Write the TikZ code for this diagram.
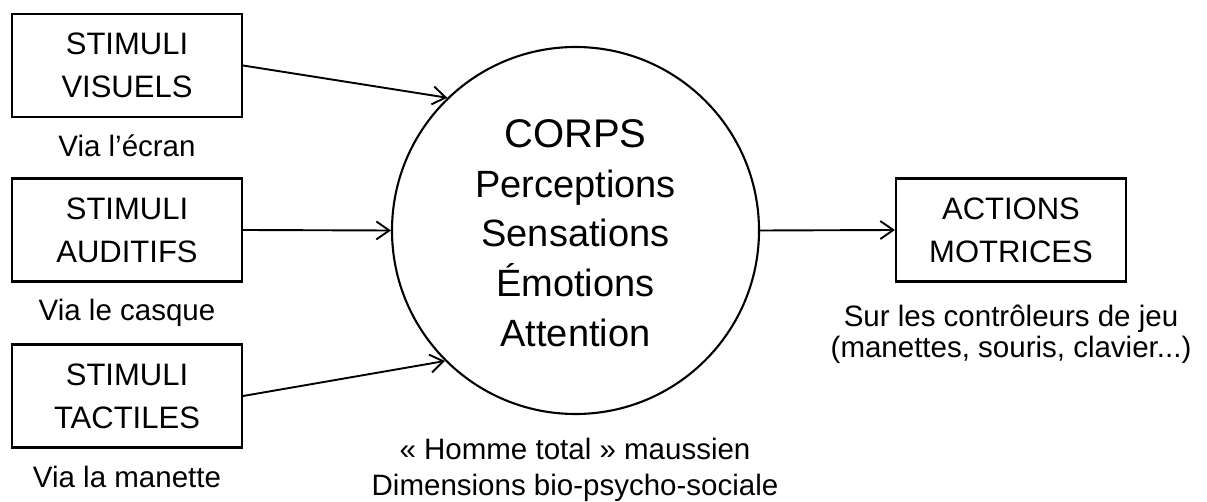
\documentclass[tikz,border=0pt]{standalone}
\usepackage{fontspec}
\setmainfont{Liberation Sans}
\usetikzlibrary{arrows.meta}
\begin{document}
\begin{tikzpicture}[x=1pt,y=-1pt,
  box/.style={draw, line width=2.1pt, minimum width=230pt, minimum height=103pt, inner sep=0pt, align=center, font=\fontsize{31}{43}\selectfont},
  captxt/.style={anchor=base, font=\fontsize{29.5}{36}\selectfont, inner sep=0pt},
  bodytxt/.style={anchor=base, font=\fontsize{38}{48}\selectfont, inner sep=0pt},
  arr/.style={line width=1.9pt, -{Straight Barb[length=13pt,width=18pt]}}]
\useasboundingbox (0,0) rectangle (1207,502);
\node[box] (b1) at (127,65.5) {STIMULI\\VISUELS};
\node[box] (b2) at (127,230) {STIMULI\\AUDITIFS};
\node[box] (b3) at (127,396) {STIMULI\\TACTILES};
\node[box] (r) at (1011,230) {ACTIONS\\MOTRICES};
\node[draw, circle, line width=2.1pt, minimum size=367pt, inner sep=0pt] (c) at (575.5,230.5) {};
\node[bodytxt, font=\fontsize{40}{48}\selectfont] (t1) at (575.5,148) {CORPS};
\node[bodytxt] (t2) at (575.5,198) {Perceptions};
\node[bodytxt] (t3) at (575.5,247) {Sensations};
\node[bodytxt] (t4) at (575.5,297) {Émotions};
\node[bodytxt] (t5) at (575.5,347) {Attention};
\node[captxt] (l1) at (127,157) {Via l’écran};
\node[captxt] (l2) at (127,321) {Via le casque};
\node[captxt] (l3) at (127,487) {Via la manette};
\node[captxt] (l4) at (1011,327) {Sur les contrôleurs de jeu};
\node[captxt] (l5) at (1011,358) {(manettes, souris, clavier...)};
\node[captxt] (l6) at (575,459) {« Homme total » maussien};
\node[captxt] (l7) at (575,495) {Dimensions bio-psycho-sociale};
\draw[arr] (b1.east) -- (c.134);
\draw[arr] (b2.east) -- (c.west);
\draw[arr] (b3.east) -- (c.225);
\draw[arr] (c.east) -- (r.west);
\end{tikzpicture}
\end{document}
